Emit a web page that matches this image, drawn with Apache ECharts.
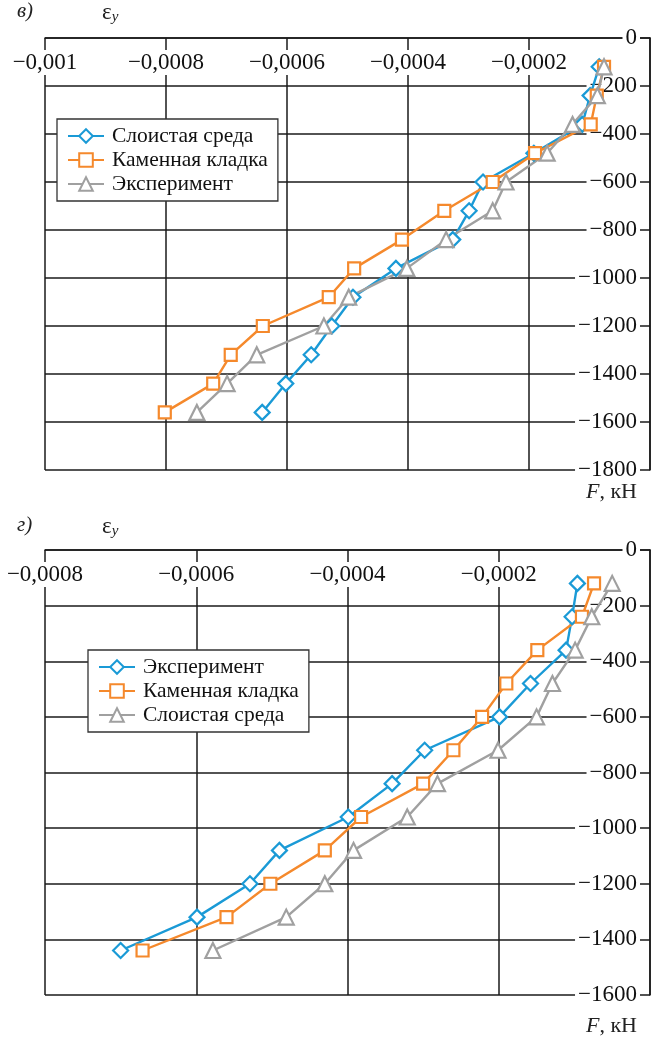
<!DOCTYPE html>
<html>
<head>
<meta charset="utf-8">
<script src="https://cdn.jsdelivr.net/npm/echarts@6/dist/echarts.min.js"></script>
<style>
  html, body { margin: 0; padding: 0; background: #fff; }
  #top { position: absolute; left: 0; top: 0; width: 651px; height: 515px; }
  #bottom { position: absolute; left: 0; top: 515px; width: 651px; height: 522px; }
</style>
</head>
<body>
<div id="top"></div>
<div id="bottom"></div>
<script>
// panel "в" – load levels, kN
const forceTop = [-120, -240, -360, -480, -600, -720, -840, -960, -1080, -1200, -1320, -1440, -1560];
const layeredTop = [-0.000084, -0.000099, -0.000112, -0.000192, -0.000276, -0.000299, -0.000326, -0.000420, -0.000491, -0.000526, -0.000560, -0.000602, -0.000641];
const masonryTop = [-0.000076, -0.000088, -0.000098, -0.000190, -0.000260, -0.000340, -0.000410, -0.000489, -0.000531, -0.000640, -0.000693, -0.000722, -0.000802];
const experimentTop = [-0.000076, -0.000087, -0.000128, -0.000170, -0.000238, -0.000260, -0.000337, -0.000402, -0.000498, -0.000539, -0.000650, -0.000699, -0.000749];

// panel "г"
const forceBottom = [-120, -240, -360, -480, -600, -720, -840, -960, -1080, -1200, -1320, -1440];
const experimentBottom = [-0.000096, -0.000103, -0.000111, -0.000158, -0.000199, -0.000298, -0.000341, -0.000399, -0.000490, -0.000529, -0.000599, -0.000700];
const masonryBottom = [-0.000074, -0.000090, -0.000149, -0.000190, -0.000222, -0.000260, -0.000300, -0.000382, -0.000430, -0.000502, -0.000560, -0.000671];
const layeredBottom = [-0.000050, -0.000077, -0.000099, -0.000129, -0.000150, -0.000201, -0.000281, -0.000321, -0.000392, -0.000430, -0.000481, -0.000578];

// tick labels
const xTicksTop = ['−0,001', '−0,0008', '−0,0006', '−0,0004', '−0,0002', ''];
const xTicksBottom = ['−0,0008', '−0,0006', '−0,0004', '−0,0002', ''];
const yTicksTop = ['−1800', '−1600', '−1400', '−1200', '−1000', '−800', '−600', '−400', '−200', '0'];
const yTicksBottom = ['−1600', '−1400', '−1200', '−1000', '−800', '−600', '−400', '−200', '0'];

const BLUE = '#1a9ad6';
const ORANGE = '#f5892c';
const GRAY = '#a0a0a0';
const FONT = 'Liberation Serif';

function zip(xs, ys) {
  return xs.map((x, i) => [x, ys[i]]);
}

function makeSeries(name, color, symbol, size, xs, ys) {
  return {
    name: name,
    type: 'line',
    data: zip(xs, ys),
    symbol: symbol,
    symbolSize: size,
    color: color,
    lineStyle: { color: color, width: 2.4 },
    itemStyle: { color: '#fff', borderColor: color, borderWidth: 2.2 },
    emphasis: { disabled: true },
    animation: false
  };
}

function buildOption(cfg) {
  const lineStyle = { color: '#1a1a1a', width: 1.5 };
  return {
    animation: false,
    textStyle: { fontFamily: FONT },
    grid: {
      left: 45, right: 1, top: cfg.gridTop, height: cfg.gridHeight,
      containLabel: false, outerBoundsMode: 'none'
    },
    xAxis: {
      type: 'value',
      position: 'top',
      min: cfg.xMin, max: 0, interval: 0.0002,
      axisLine: { show: true, lineStyle: lineStyle },
      axisTick: { show: false },
      splitLine: { show: true, lineStyle: lineStyle },
      axisLabel: {
        inside: true, margin: 12, showMaxLabel: false,
        fontFamily: FONT, fontSize: 23, color: '#111',
        backgroundColor: '#fff', padding: [1, 3],
        formatter: (v) => cfg.xTicks[Math.round((v - cfg.xMin) / 0.0002)]
      }
    },
    yAxis: {
      type: 'value',
      position: 'right',
      min: cfg.yMin, max: 0, interval: 200,
      axisLine: { show: true, onZero: false, lineStyle: lineStyle },
      axisTick: { show: false },
      splitLine: { show: true, lineStyle: lineStyle },
      axisLabel: {
        inside: true, margin: 10,
        fontFamily: FONT, fontSize: 23, color: '#111',
        backgroundColor: '#fff', padding: [0, 3],
        formatter: (v) => cfg.yTicks[Math.round((v - cfg.yMin) / 200)]
      }
    },
    legend: {
      orient: 'vertical',
      left: cfg.legendLeft, top: cfg.legendTop,
      padding: [6, 10, 6, 10],
      itemWidth: 36, itemHeight: 17, itemGap: 2,
      borderColor: '#333', borderWidth: 1.3, backgroundColor: '#fff',
      selectedMode: false,
      textStyle: { fontFamily: FONT, fontSize: 21.5, color: '#111', lineHeight: 22, padding: [0, 0, 0, 3] },
      data: cfg.series.map((s) => s.name)
    },
    graphic: [
      {
        type: 'text', left: 17, top: cfg.labelTop,
        style: { text: cfg.panel, font: 'italic 21px ' + FONT, fill: '#222' }
      },
      {
        type: 'text', left: 102, top: cfg.labelTop,
        style: {
          text: '{e|ε}{s|y}',
          rich: {
            e: { fontFamily: FONT, fontSize: 23, fill: '#222' },
            s: { fontFamily: FONT, fontStyle: 'italic', fontSize: 15, fill: '#222', padding: [10, 0, 0, 0] }
          }
        }
      },
      {
        type: 'text', right: 14, top: cfg.unitTop,
        style: {
          text: '{f|F}{n|, кН}',
          rich: {
            f: { fontFamily: FONT, fontStyle: 'italic', fontSize: 22, fill: '#222' },
            n: { fontFamily: FONT, fontSize: 22, fill: '#222' }
          }
        }
      }
    ],
    series: cfg.series
  };
}

const topChart = echarts.init(document.getElementById('top'));
topChart.setOption(buildOption({
  gridTop: 38, gridHeight: 432, xMin: -0.001, yMin: -1800,
  xTicks: xTicksTop, yTicks: yTicksTop,
  legendLeft: 57, legendTop: 119,
  panel: 'в)', labelTop: 1, unitTop: 481,
  series: [
    makeSeries('Слоистая среда', BLUE, 'diamond', 15, layeredTop, forceTop),
    makeSeries('Каменная кладка', ORANGE, 'rect', 12, masonryTop, forceTop),
    makeSeries('Эксперимент', GRAY, 'triangle', 15, experimentTop, forceTop)
  ]
}));

const bottomChart = echarts.init(document.getElementById('bottom'));
bottomChart.setOption(buildOption({
  gridTop: 35, gridHeight: 445, xMin: -0.0008, yMin: -1600,
  xTicks: xTicksBottom, yTicks: yTicksBottom,
  legendLeft: 88, legendTop: 135,
  panel: 'г)', labelTop: 0, unitTop: 500,
  series: [
    makeSeries('Эксперимент', BLUE, 'diamond', 15, experimentBottom, forceBottom),
    makeSeries('Каменная кладка', ORANGE, 'rect', 12, masonryBottom, forceBottom),
    makeSeries('Слоистая среда', GRAY, 'triangle', 15, layeredBottom, forceBottom)
  ]
}));
</script>
</body>
</html>
